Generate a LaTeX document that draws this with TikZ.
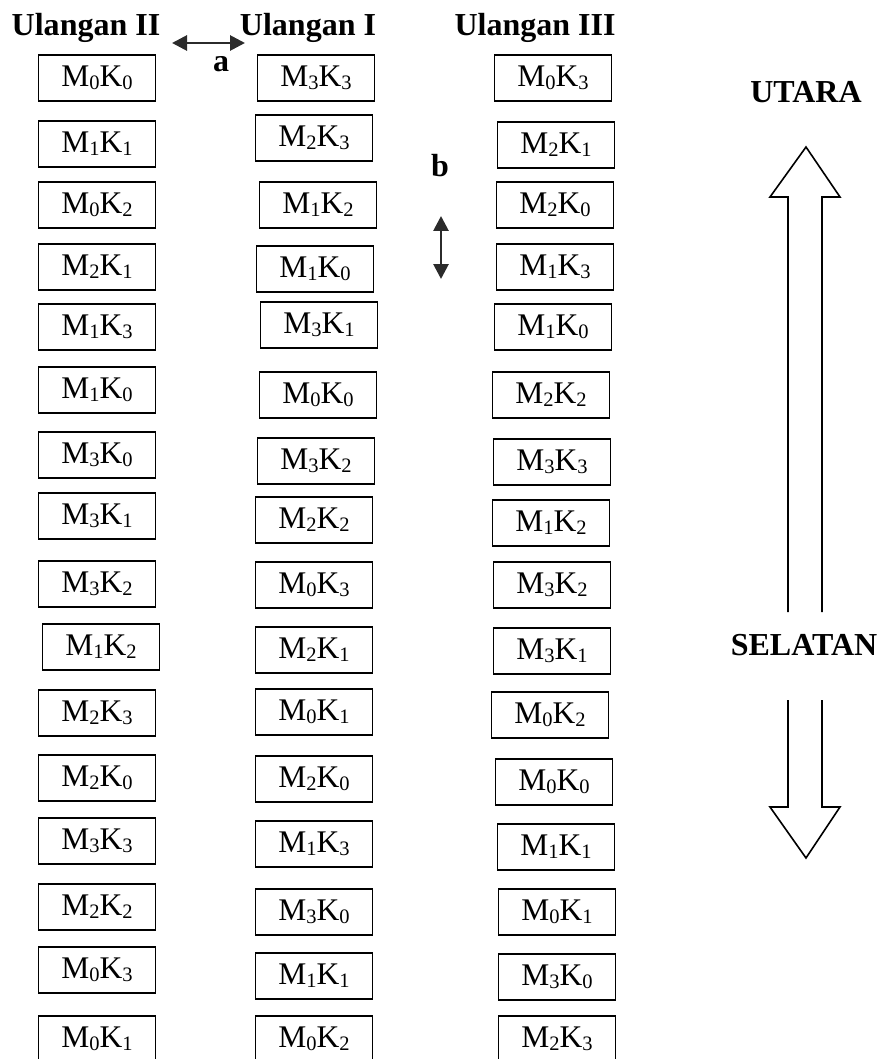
\documentclass[tikz,border=0pt]{standalone}
\usepackage{fontspec}
\setmainfont{Liberation Serif}
\usetikzlibrary{arrows.meta}
\definecolor{arrowgray}{HTML}{2B2B2B}
\newcommand\sbs[1]{\raisebox{-0.1em}{\fontsize{20.5}{20.5}\selectfont #1}}
\begin{document}
\begin{tikzpicture}[x=1pt,y=-1pt,
  cell/.style={draw, line width=1.5pt, minimum width=117pt, minimum height=46pt, inner sep=0pt, font=\fontsize{31.5}{36}\selectfont},
  head/.style={font=\fontsize{32}{36}\selectfont\bfseries, inner sep=0pt, anchor=base},
  dbl/.style={{Triangle[length=15pt,width=15pt]}-{Triangle[length=15pt,width=15pt]}, line width=2.8pt, draw=arrowgray, fill=arrowgray},
  bigarrow/.style={line width=1.6pt, line join=miter}]
\useasboundingbox (0,0) rectangle (883,1059);

% headers
\node[head] (h2) at (86,36) {Ulangan II};
\node[head] (h1) at (308,36) {Ulangan I};
\node[head] (h3) at (535,36) {Ulangan III};
\node[head] (la) at (221,72) {a};
\node[head] (lb) at (440,177) {b};
\node[head] (utara) at (806,103) {UTARA};
\node[head] (selatan) at (804,655) {SELATAN};

% column Ulangan II
\node[cell] (a1)  at (97,78)   {M\sbs0K\sbs0};
\node[cell] (a2)  at (97,144)  {M\sbs1K\sbs1};
\node[cell] (a3)  at (97,205)  {M\sbs0K\sbs2};
\node[cell] (a4)  at (97,267)  {M\sbs2K\sbs1};
\node[cell] (a5)  at (97,327)  {M\sbs1K\sbs3};
\node[cell] (a6)  at (97,390)  {M\sbs1K\sbs0};
\node[cell] (a7)  at (97,455)  {M\sbs3K\sbs0};
\node[cell] (a8)  at (97,516)  {M\sbs3K\sbs1};
\node[cell] (a9)  at (97,584)  {M\sbs3K\sbs2};
\node[cell] (a10) at (101,647) {M\sbs1K\sbs2};
\node[cell] (a11) at (97,713)  {M\sbs2K\sbs3};
\node[cell] (a12) at (97,778)  {M\sbs2K\sbs0};
\node[cell] (a13) at (97,841)  {M\sbs3K\sbs3};
\node[cell] (a14) at (97,907)  {M\sbs2K\sbs2};
\node[cell] (a15) at (97,970)  {M\sbs0K\sbs3};
\node[cell] (a16) at (97,1039) {M\sbs0K\sbs1};

% column Ulangan I
\node[cell] (b1)  at (316,78)   {M\sbs3K\sbs3};
\node[cell] (b2)  at (314,138)  {M\sbs2K\sbs3};
\node[cell] (b3)  at (318,205)  {M\sbs1K\sbs2};
\node[cell] (b4)  at (315,269)  {M\sbs1K\sbs0};
\node[cell] (b5)  at (319,325)  {M\sbs3K\sbs1};
\node[cell] (b6)  at (318,395)  {M\sbs0K\sbs0};
\node[cell] (b7)  at (316,461)  {M\sbs3K\sbs2};
\node[cell] (b8)  at (314,520)  {M\sbs2K\sbs2};
\node[cell] (b9)  at (314,585)  {M\sbs0K\sbs3};
\node[cell] (b10) at (314,650)  {M\sbs2K\sbs1};
\node[cell] (b11) at (314,712)  {M\sbs0K\sbs1};
\node[cell] (b12) at (314,779)  {M\sbs2K\sbs0};
\node[cell] (b13) at (314,844)  {M\sbs1K\sbs3};
\node[cell] (b14) at (314,912)  {M\sbs3K\sbs0};
\node[cell] (b15) at (314,976)  {M\sbs1K\sbs1};
\node[cell] (b16) at (314,1039) {M\sbs0K\sbs2};

% column Ulangan III
\node[cell] (c1)  at (553,78)   {M\sbs0K\sbs3};
\node[cell] (c2)  at (556,145)  {M\sbs2K\sbs1};
\node[cell] (c3)  at (555,205)  {M\sbs2K\sbs0};
\node[cell] (c4)  at (555,267)  {M\sbs1K\sbs3};
\node[cell] (c5)  at (553,327)  {M\sbs1K\sbs0};
\node[cell] (c6)  at (551,395)  {M\sbs2K\sbs2};
\node[cell] (c7)  at (552,462)  {M\sbs3K\sbs3};
\node[cell] (c8)  at (551,523)  {M\sbs1K\sbs2};
\node[cell] (c9)  at (552,585)  {M\sbs3K\sbs2};
\node[cell] (c10) at (552,651)  {M\sbs3K\sbs1};
\node[cell] (c11) at (550,715)  {M\sbs0K\sbs2};
\node[cell] (c12) at (554,782)  {M\sbs0K\sbs0};
\node[cell] (c13) at (556,847)  {M\sbs1K\sbs1};
\node[cell] (c14) at (557,912)  {M\sbs0K\sbs1};
\node[cell] (c15) at (557,977)  {M\sbs3K\sbs0};
\node[cell] (c16) at (557,1039) {M\sbs2K\sbs3};

% small double arrows
\coordinate (aL) at (172,43);
\coordinate (aR) at (245,43);
\draw[dbl] (aL) -- (aR);
\coordinate (bT) at (441,216);
\coordinate (bB) at (441,279);
\draw[dbl] (bT) -- (bB);

% big north / south arrows
\draw[bigarrow] (788,612) -- (788,197) -- (770,197) -- (806,147) -- (840,197) -- (822,197) -- (822,612);
\draw[bigarrow] (788,700) -- (788,807) -- (770,807) -- (806,858) -- (840,807) -- (822,807) -- (822,700);
\end{tikzpicture}
\end{document}
